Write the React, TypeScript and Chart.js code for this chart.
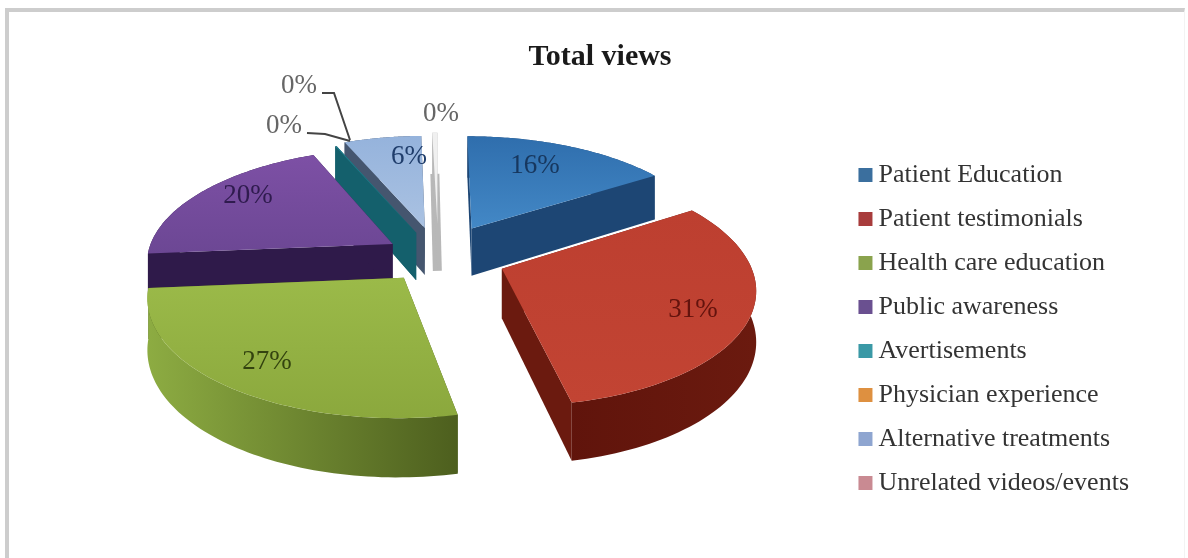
import React, { useEffect, useRef } from "react";
import { Chart, registerables } from "chart.js";

Chart.register(...registerables);

// Share of total views per video category
const categories = [
  "Patient Education",
  "Patient testimonials",
  "Health care education",
  "Public awareness",
  "Avertisements",
  "Physician experience",
  "Alternative treatments",
  "Unrelated videos/events",
];
const viewShares = [16, 31, 27, 20, 0.1, 0, 6, 0.4];
const explode = [72, 68, 56, 54, 58, 58, 66, 74];

const legendColors = ["#3b6f9e", "#a83c3c", "#8aa34d", "#6a5090", "#3a99a6", "#de9040", "#8ea5d0", "#c98a92"];
const faceTop = ["#2f6ead", "#bd3f30", "#9bba49", "#7d50a5", "#1f7a8a", "#de9040", "#95b3dc", "#f0f0f0"];
const faceBottom = ["#4388c6", "#c24433", "#8ba83d", "#6c4794", "#1f7a8a", "#de9040", "#aac2e2", "#f0f0f0"];
const wallLeft = ["#1d4674", "#5c120a", "#8dac42", "#2f1a4a", "#14606c", "#a0621f", "#45566f", "#b8b8b8"];
const wallRight = ["#1d4674", "#6b1a0f", "#4d5f1e", "#2f1a4a", "#14606c", "#a0621f", "#45566f", "#b8b8b8"];
const labelInk = ["#17375e", "#63130d", "#33430f", "#2f1b4e", "#666666", "#666666", "#1f3d6b", "#666666"];
// Thin slices get a heavier line along their lower edge so they stay visible
const keelWidth = [0, 0, 0, 0, 0, 0, 0, 9];

// Where each percentage sits on the canvas
const labelSpots = [
  [535, 166], [693, 310], [267, 362], [248, 196],
  [284, 126], [299, 86], [409, 157], [441, 114],
];
const leaderLines = [
  [[307, 133], [325, 134], [350, 141]],
  [[322, 93], [334, 93], [350, 140]],
];

// Camera for the tilted pie
const CAM_DX = -16;
const CAM_DY = -50;
const HORIZON = 776;
const PLANE_DEPTH = 1687;
const THICKNESS = 49;

const SERIF = "'Liberation Serif', serif";

const tiltedPie = {
  id: "tiltedPie",
  beforeDatasetDraw(chart: any) {
    const ctx = chart.ctx;
    const arcs = chart.getDatasetMeta(0).data;
    const order = arcs
      .map((arc: any, i: number) => ({ arc, i, mid: (arc.startAngle + arc.endAngle) / 2 }))
      .filter((o: any) => o.arc.endAngle - o.arc.startAngle > 0)
      .sort((a: any, b: any) => Math.sin(a.mid) - Math.sin(b.mid));

    for (const { arc, i, mid } of order) {
      const cx = arc.x + CAM_DX;
      const cy = arc.y + CAM_DY;
      const off = arc.options.offset || 0;
      const ox = Math.cos(mid) * off;
      const oy = -Math.sin(mid) * off;
      const project = (X: number, Y: number, z: number): [number, number] => {
        const s = 1 / (1 + Y / PLANE_DEPTH);
        return [cx + X * s, cy - HORIZON + (HORIZON + z) * s];
      };
      const steps = 72;
      const rim: [number, number][] = [];
      for (let k = 0; k <= steps; k++) {
        const a = arc.startAngle + ((arc.endAngle - arc.startAngle) * k) / steps;
        rim.push([ox + Math.cos(a) * arc.outerRadius, oy - Math.sin(a) * arc.outerRadius]);
      }
      const polygon = (pts: [number, number][], fill: any) => {
        ctx.beginPath();
        pts.forEach((p, n) => (n ? ctx.lineTo(p[0], p[1]) : ctx.moveTo(p[0], p[1])));
        ctx.closePath();
        ctx.fillStyle = fill;
        ctx.fill();
      };
      const top = [project(ox, oy, 0), ...rim.map((p) => project(p[0], p[1], 0))];
      const band = [
        ...rim.map((p) => project(p[0], p[1], 0)),
        ...rim.slice().reverse().map((p) => project(p[0], p[1], THICKNESS)),
      ];
      const xs = top.map((p) => p[0]);
      const ys = top.map((p) => p[1]);

      const sideGrad = ctx.createLinearGradient(Math.min(...xs), 0, Math.max(...xs), 0);
      sideGrad.addColorStop(0, wallLeft[i]);
      sideGrad.addColorStop(1, wallRight[i]);

      if (keelWidth[i] > 0) {
        const a = project(ox, oy, THICKNESS);
        const b = project(rim[36][0], rim[36][1], THICKNESS);
        ctx.beginPath();
        ctx.moveTo(a[0], a[1]);
        ctx.lineTo(b[0], b[1]);
        ctx.lineWidth = keelWidth[i];
        ctx.strokeStyle = wallRight[i];
        ctx.stroke();
      }

      // radial walls, then the rounded outer wall, then the face on top
      for (const end of [rim[0], rim[steps]]) {
        polygon(
          [project(ox, oy, 0), project(end[0], end[1], 0), project(end[0], end[1], THICKNESS), project(ox, oy, THICKNESS)],
          wallRight[i],
        );
      }
      polygon(band, sideGrad);

      const faceGrad = ctx.createLinearGradient(0, Math.min(...ys), 0, Math.max(...ys));
      faceGrad.addColorStop(0, faceTop[i]);
      faceGrad.addColorStop(1, faceBottom[i]);
      polygon(top, faceGrad);
    }
    return false;
  },
  afterDatasetsDraw(chart: any) {
    const ctx = chart.ctx;
    const total = viewShares.reduce((a, b) => a + b, 0);
    ctx.save();
    ctx.strokeStyle = "#444444";
    ctx.lineWidth = 2;
    for (const line of leaderLines) {
      ctx.beginPath();
      line.forEach((p, n) => (n ? ctx.lineTo(p[0], p[1]) : ctx.moveTo(p[0], p[1])));
      ctx.stroke();
    }
    ctx.font = `27px ${SERIF}`;
    ctx.textAlign = "center";
    ctx.textBaseline = "middle";
    viewShares.forEach((v, i) => {
      ctx.fillStyle = labelInk[i];
      ctx.fillText(`${Math.round((v / total) * 100)}%`, labelSpots[i][0], labelSpots[i][1]);
    });
    ctx.restore();
  },
};

export default function App() {
  const canvasRef = useRef<HTMLCanvasElement | null>(null);

  useEffect(() => {
    const chart = new Chart(canvasRef.current as HTMLCanvasElement, {
      type: "pie",
      data: {
        labels: categories,
        datasets: [
          {
            data: viewShares,
            backgroundColor: legendColors,
            borderWidth: 0,
            offset: explode,
          } as any,
        ],
      },
      options: {
        animation: false,
        responsive: false,
        radius: 246,
        layout: { padding: { left: 61, right: 49, top: 12, bottom: 44 } },
        plugins: {
          tooltip: { enabled: false },
          title: {
            display: true,
            text: "Total views",
            color: "#1a1a1a",
            font: { family: SERIF, size: 30, weight: "bold" },
            padding: { top: 27, bottom: 24 },
          },
          legend: {
            position: "right",
            align: "end",
            labels: {
              color: "#333333",
              font: { family: SERIF, size: 26 },
              usePointStyle: true,
              pointStyle: "rect",
              boxWidth: 0.01,
              boxHeight: 14,
              padding: 18,
            },
          },
        },
      } as any,
      plugins: [tiltedPie],
    });
    return () => chart.destroy();
  }, []);

  return (
    <div style={{ position: "fixed", left: 0, top: 0, width: 1188, height: 558, background: "#fff", overflow: "hidden" }}>
      <canvas ref={canvasRef} width={1188} height={558} style={{ display: "block" }} />
      <div
        style={{
          position: "absolute",
          left: 5,
          top: 8,
          right: 3,
          bottom: 0,
          borderTop: "4px solid #cdcdcd",
          borderLeft: "4px solid #cdcdcd",
          borderRight: "1px solid #f3f3f3",
          pointerEvents: "none",
        }}
      />
    </div>
  );
}
